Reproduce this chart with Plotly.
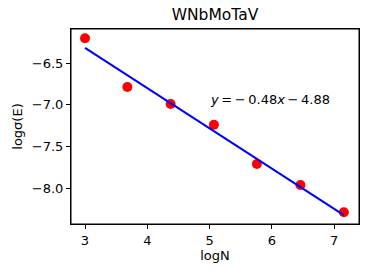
import plotly.graph_objects as go

logN = [3.0, 3.68, 4.375, 5.07, 5.76, 6.46, 7.157]
log_sigma = [-6.205, -6.786, -6.99, -7.236, -7.705, -7.955, -8.28]
slope = -0.48
intercept = -4.88
fit_x = [logN[0], logN[-1]]
fit_y = [slope * x + intercept for x in fit_x]
x_ticks = [3, 4, 5, 6, 7]
y_ticks = [-6.5, -7.0, -7.5, -8.0]

FONT = "DejaVu Sans"
fig = go.Figure()
fig.add_trace(go.Scatter(x=logN, y=log_sigma, mode="markers",
                         marker=dict(color="red", size=10, line=dict(width=0)),
                         showlegend=False, cliponaxis=False))
fig.add_trace(go.Scatter(x=fit_x, y=fit_y, mode="lines",
                         line=dict(color="blue", width=2), showlegend=False))
fig.add_annotation(x=5.0, y=-7.0, xref="x", yref="y", xanchor="left", yanchor="bottom",
                   text="<i>y</i>\u2009=\u2009\u2212\u20090.48<i>x</i>\u2009\u2212\u20094.88",
                   showarrow=False, borderpad=0,
                   font=dict(family=FONT, size=13, color="black"), yshift=-3, xshift=-1)
fig.add_shape(type="rect", xref="paper", yref="paper", x0=0, x1=1, y0=0, y1=1,
              line=dict(color="black", width=1), layer="above")
fig.update_layout(
    width=374, height=276,
    margin=dict(l=71, r=15, t=29, b=52, autoexpand=False),
    paper_bgcolor="white", plot_bgcolor="white",
    font=dict(family=FONT, size=13, color="black"),
    title=dict(text="WNbMoTaV", x=0.5, xref="paper", xanchor="center",
               y=1 - 15 / 276, yanchor="middle", font=dict(size=15.5)),
)
fig.update_xaxes(range=[2.775, 7.40], tickvals=x_ticks, ticktext=[str(v) for v in x_ticks],
                 showline=True, linecolor="black", linewidth=1, mirror=True,
                 ticks="outside", ticklen=4, tickcolor="black", showgrid=False, zeroline=False,
                 tickfont=dict(size=13), automargin=False,
                 title=dict(text="logN", standoff=4, font=dict(size=13)))
fig.update_yaxes(range=[-8.421, -6.094], tickvals=y_ticks, ticktext=["−6.5", "−7.0", "−7.5", "−8.0"],
                 showline=True, linecolor="black", linewidth=1, mirror=True,
                 ticks="outside", ticklen=4, tickcolor="black", showgrid=False, zeroline=False,
                 tickfont=dict(size=13), automargin=False,
                 title=dict(text="logσ(E)", standoff=6, font=dict(size=13)))
fig.write_html("out.html", config={"displayModeBar": False},
               post_script="document.body.style.margin='0';document.body.style.padding='0';")
